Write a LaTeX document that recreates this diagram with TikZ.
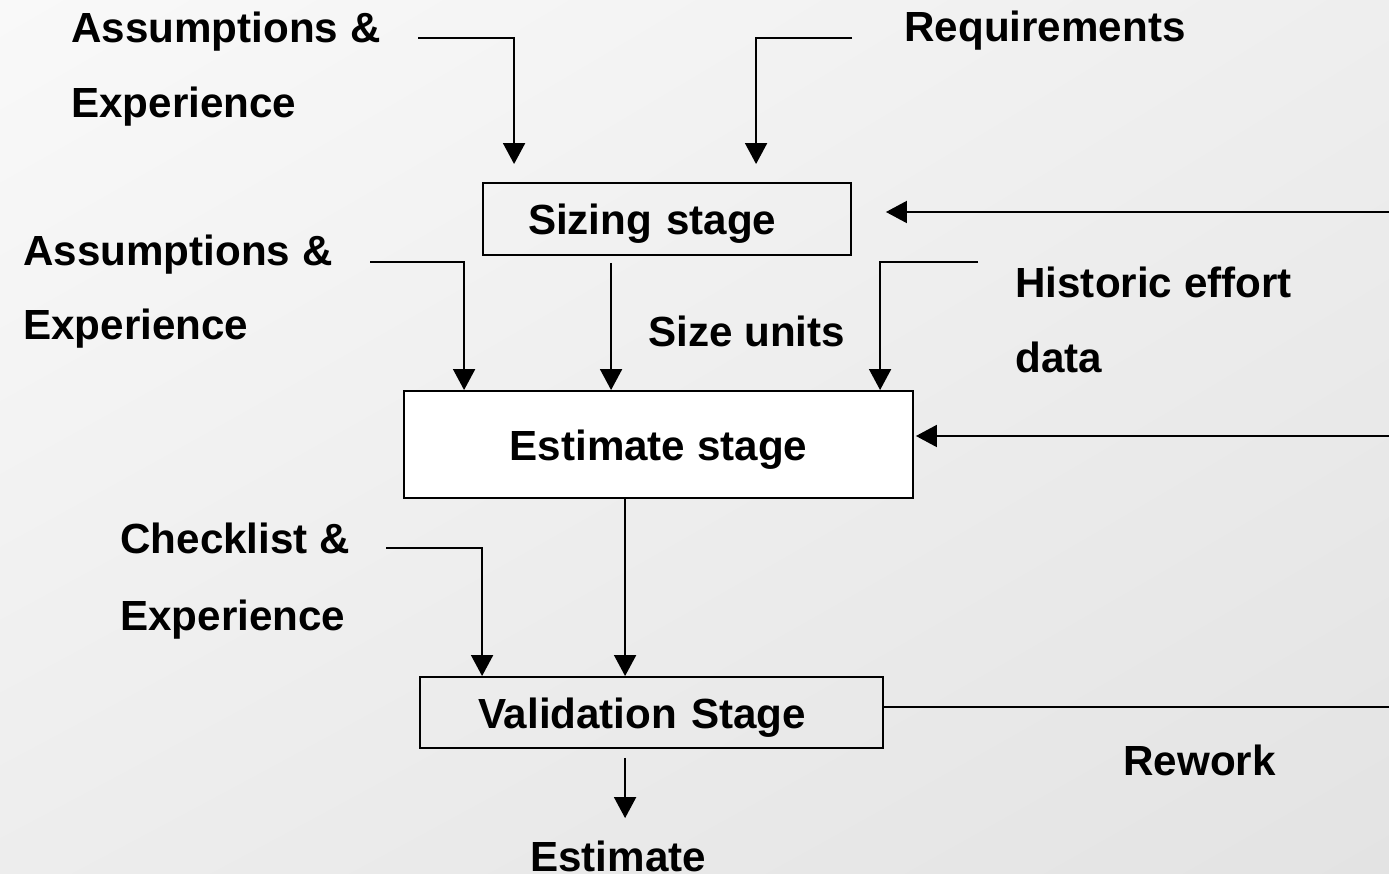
\documentclass[tikz,border=0pt]{standalone}
\usepackage{fontspec}
\setmainfont{Liberation Sans}
\usetikzlibrary{arrows.meta,calc,shadings}
\definecolor{bgtl}{HTML}{F9F9F9}
\definecolor{bgtr}{HTML}{EEEEEE}
\definecolor{bgbl}{HTML}{EDEDED}
\definecolor{bgbr}{HTML}{E3E3E3}
\def\lw{1.1pt}
\def\tipgap{0.44cm}

\begin{document}
\begin{tikzpicture}[x=0.02cm,y=-0.02cm,
	font=\fontsize{24}{28}\selectfont\bfseries,
	stage/.style={rectangle,draw,line width=\lw,inner sep=0pt,text height=0.9cm,text depth=0.26cm},
	lbl/.style={anchor=base west,inner sep=0pt},
	flow/.style={-{Triangle[length=0.42cm,width=0.44cm]},line width=\lw},
	link/.style={line width=\lw}
	]
	\useasboundingbox (0,0) rectangle (1389,874);
	\shade[upper left=bgtl,upper right=bgtr,lower left=bgbl,lower right=bgbr] (0,0) rectangle (1389,874);
	
	\node[stage,minimum width=7.36cm,minimum height=1.44cm,inner xsep=0.9cm,text width=5.56cm,align=left] (sizing) at (667,219) {Sizing stage};
	\node[stage,fill=white,minimum width=10.18cm,minimum height=2.14cm] (estimate) at (658.5,444.5) {Estimate stage};
	\node[stage,minimum width=9.26cm,minimum height=1.42cm,inner xsep=1.16cm,text width=6.94cm,align=left] (validation) at (651.5,712.5) {Validation Stage};
	
	\node[lbl] (asm1) at (71,43) {Assumptions \&};
	\node[lbl] (asm1b) at (71,118) {Experience};
	\node[lbl] (req) at (904,42) {Requirements};
	\node[lbl] (asm2) at (23,266) {Assumptions \&};
	\node[lbl] (asm2b) at (23,340) {Experience};
	\node[lbl] (units) at (648,347) {Size units};
	\node[lbl] (hist) at (1015,298) {Historic effort};
	\node[lbl] (histb) at (1015,373) {data};
	\node[lbl] (chk) at (120,553) {Checklist \&};
	\node[lbl] (chkb) at (120,630) {Experience};
	\node[lbl] (rework) at (1123,775) {Rework};
	\node[lbl] (result) at (530,871) {Estimate};
	
	% free ends of the inputs
	\coordinate (asm1in) at (418,38);
	\coordinate (reqin) at (852,38);
	\coordinate (hist1in) at (1389,212);
	\coordinate (asm2in) at (370,262);
	\coordinate (histin) at (978,262);
	\coordinate (hist2in) at (1389,436);
	\coordinate (chkin) at (386,548);
	\coordinate (rwkout) at (1389,707);
	
	\draw[flow] (asm1in) -| ($(sizing.north west)+(32,-18)$);
	\draw[flow] (reqin) -| ($(sizing.north west)+(274,-18)$);
	\draw[flow] (hist1in) -- ($(sizing.east)+(34,-7)$);
	
	\draw[flow] (asm2in) -| ($(estimate.north west)+(61,0)$);
	\draw[flow] ($(sizing.south west)+(129,7)$) coordinate (s) -- (s |- estimate.north);
	\draw[flow] (histin) -| ($(estimate.north west)+(477,0)$);
	\draw[flow] (hist2in) -- ($(estimate.east)+(2,-8.5)$);
	
	\draw[flow] ($(estimate.south west)+(222,0)$) coordinate (e) -- (e |- validation.north);
	\draw[flow] (chkin) -| ($(validation.north west)+(63,0)$);
	\draw[link] (validation.east |- rwkout) -- (rwkout);
	\draw[flow,shorten >=\tipgap] ($(validation.south west)+(206,9)$) coordinate (v) -- (v |- result.north);
\end{tikzpicture}
\end{document}
